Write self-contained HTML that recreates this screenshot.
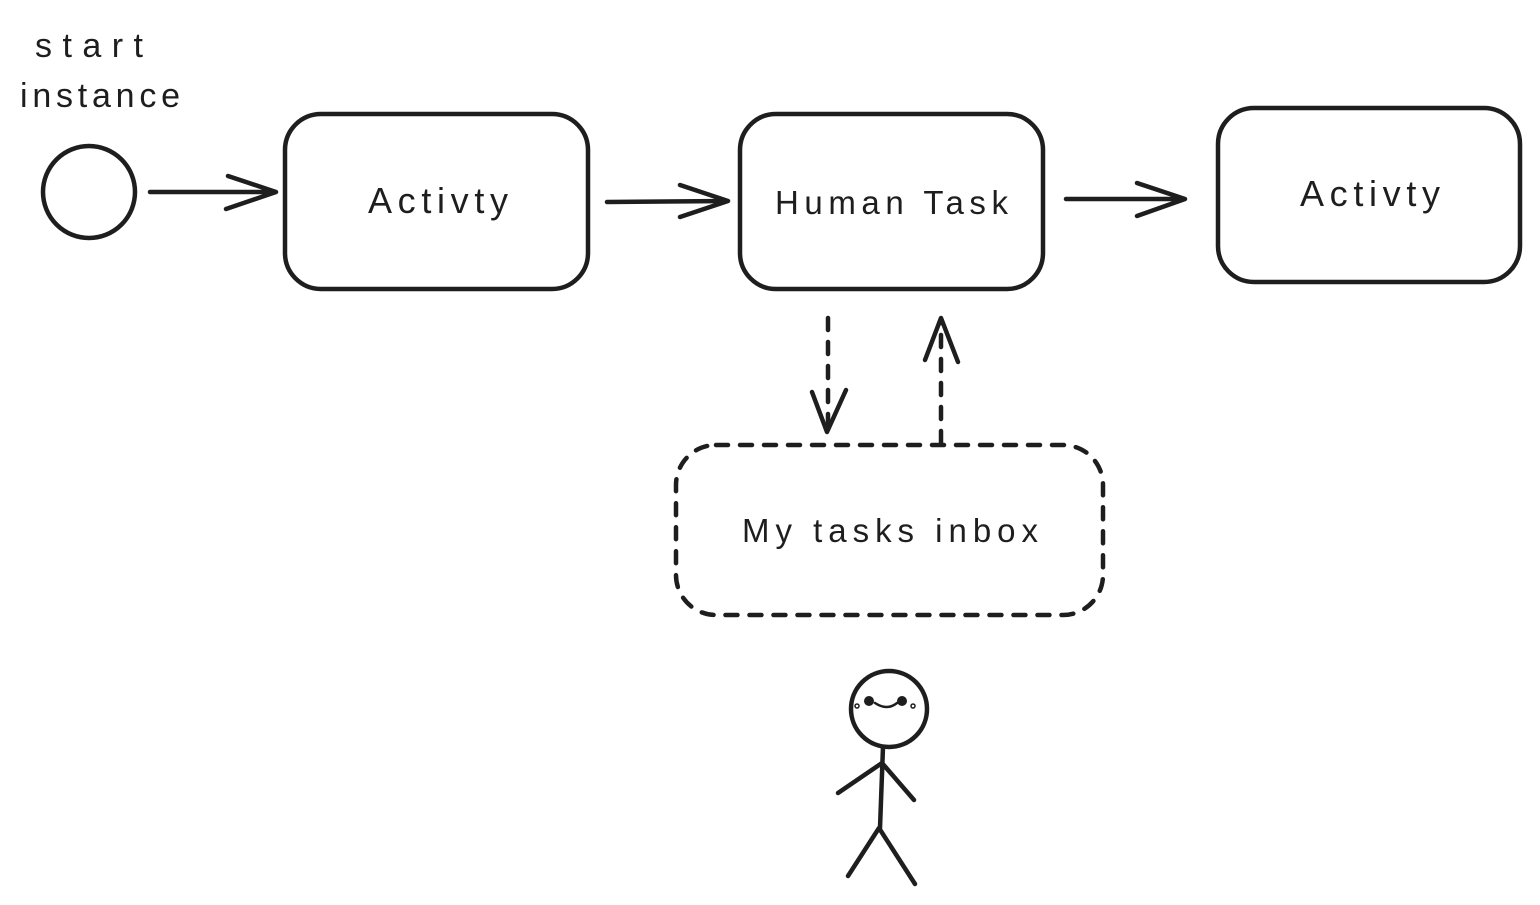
<!DOCTYPE html>
<html><head><meta charset="utf-8"><style>
html,body{margin:0;padding:0;background:#fff;}
svg{display:block}
text{font-family:"Liberation Sans",sans-serif;fill:#1e1e1e;}
</style></head><body>
<svg width="1540" height="905" viewBox="0 0 1540 905" xmlns="http://www.w3.org/2000/svg">
<g fill="none" stroke="#1e1e1e" stroke-width="4.5" stroke-linecap="round" stroke-linejoin="round">
  <circle cx="89" cy="192" r="46"/>
  <path d="M150 192 L275 192 M228 176 L276 192 L226 209"/>
  <rect x="285" y="114" width="303" height="175" rx="36"/>
  <path d="M607 202 L727 201 M680 185 L728 201 L680 217"/>
  <rect x="740" y="114" width="303" height="175" rx="36"/>
  <path d="M1066 199 L1184 199 M1137 183 L1185 199 L1137 216"/>
  <rect x="1218" y="108" width="302" height="174" rx="36"/>
  <path d="M828 318 L828 432" stroke-dasharray="12 12"/>
  <path d="M812 392 L827 432 L846 390"/>
  <path d="M941 443 L941 320" stroke-dasharray="12 12"/>
  <path d="M925 360 L941 318 L958 362"/>
  <rect x="676" y="445" width="427" height="170" rx="40" stroke-dasharray="12 12"/>
  <circle cx="889" cy="709" r="38"/>
  <path d="M883 747 L880 828 M838 793 L882 763 L914 800 M848 876 L879 828 L915 884"/>
  <path d="M875 703 Q887 711 897 703" stroke-width="2.5"/>
</g>
<circle cx="869" cy="701" r="5" fill="#1e1e1e"/>
<circle cx="902" cy="701" r="5" fill="#1e1e1e"/>
<circle cx="857" cy="706" r="2" fill="none" stroke="#1e1e1e" stroke-width="1.5"/>
<circle cx="913" cy="706" r="2" fill="none" stroke="#1e1e1e" stroke-width="1.5"/>
<text x="35" y="57" font-size="34" textLength="108" lengthAdjust="spacing">start</text>
<text x="20" y="107" font-size="34" textLength="160" lengthAdjust="spacing">instance</text>
<text x="368" y="213" font-size="36" textLength="140" lengthAdjust="spacing">Activty</text>
<text x="775" y="214" font-size="33" textLength="233" lengthAdjust="spacing">Human Task</text>
<text x="1300" y="206" font-size="36" textLength="140" lengthAdjust="spacing">Activty</text>
<text x="742" y="542" font-size="33" textLength="296" lengthAdjust="spacing">My tasks inbox</text>
</svg>
</body></html>
